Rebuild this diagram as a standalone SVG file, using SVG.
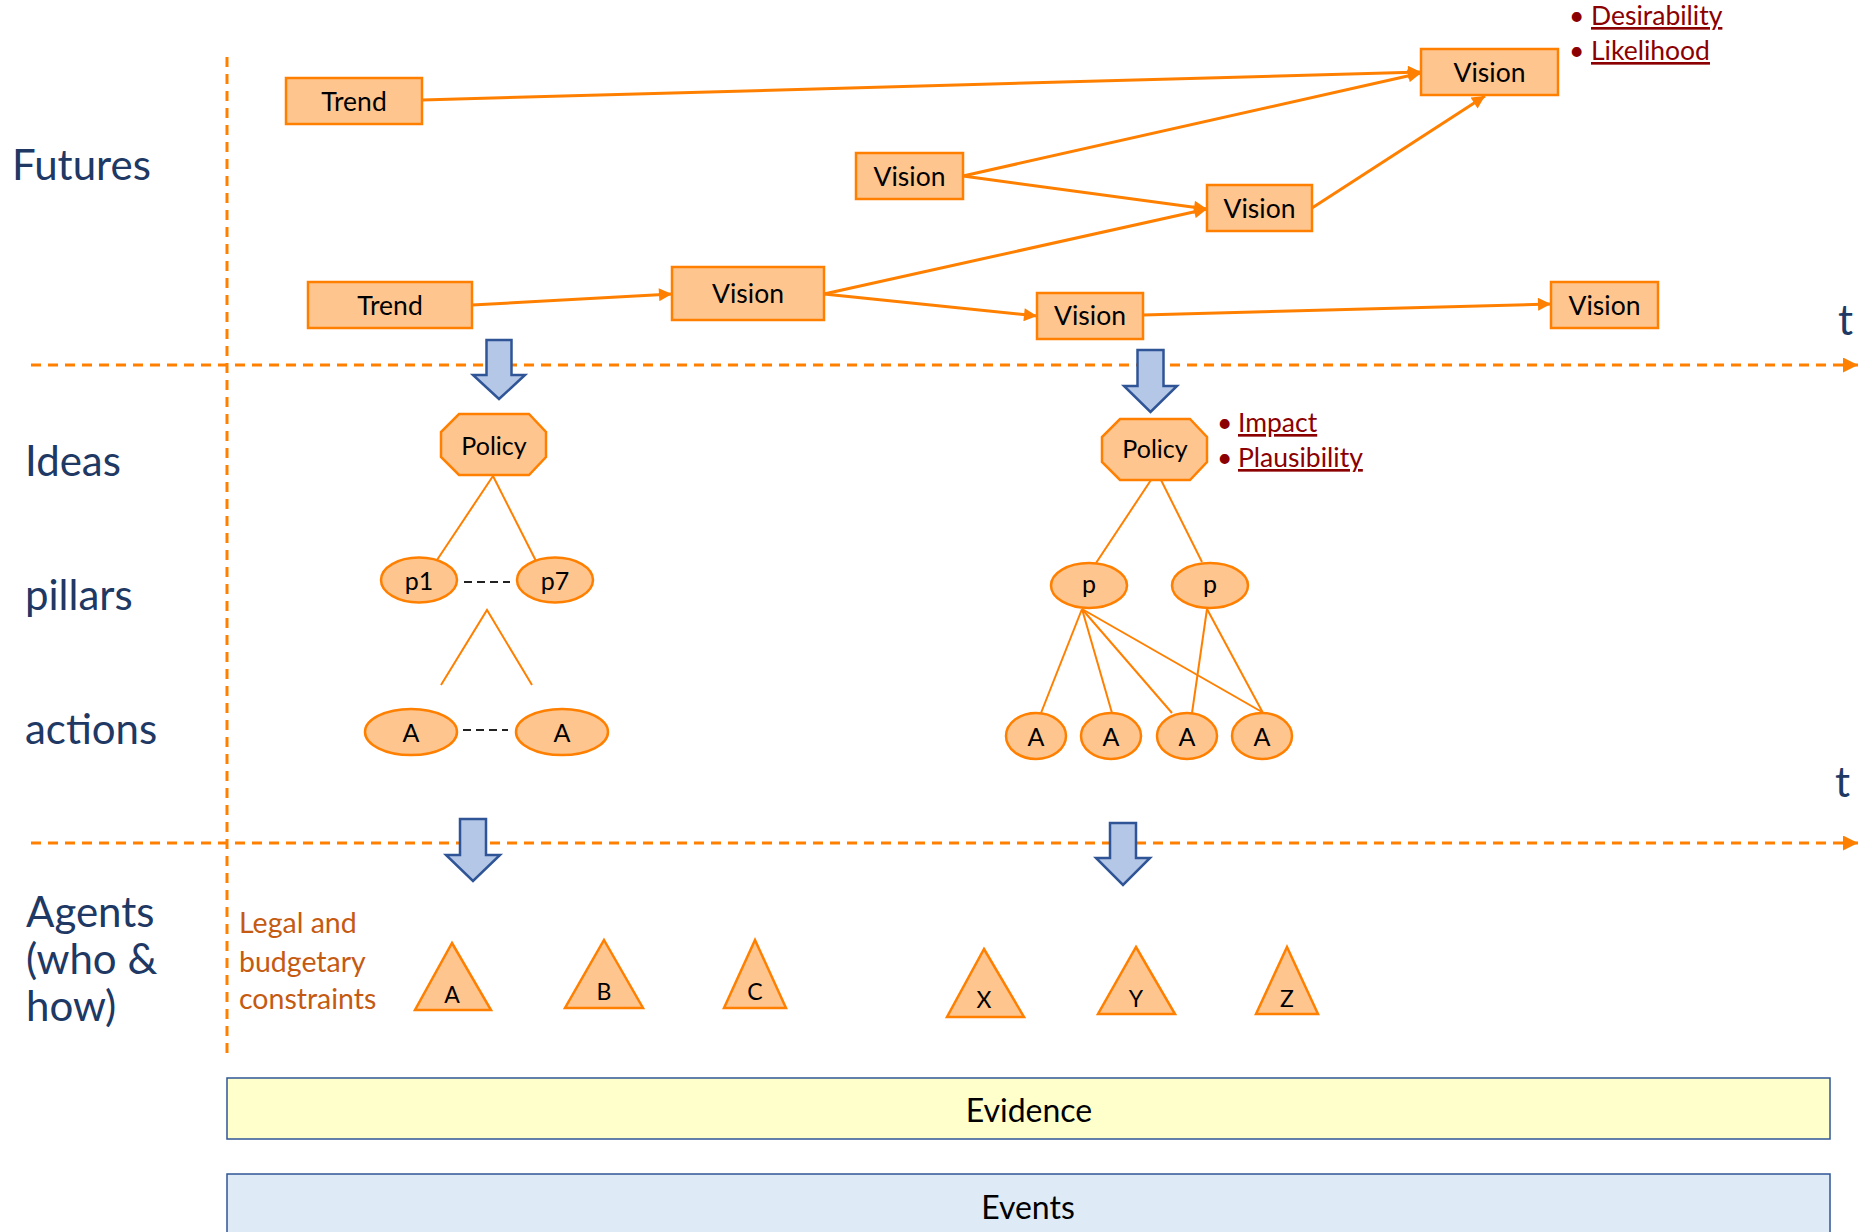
<svg xmlns="http://www.w3.org/2000/svg" width="1860" height="1232" viewBox="0 0 1860 1232">
<defs>
<style>
text{font-family:Lato,"Liberation Sans",sans-serif}
.lbl{font-size:42px;fill:#203864}
.box{fill:#FFC58F;stroke:#FF8000;stroke-width:2.5}
.nt{font-size:26.5px;fill:#000;text-anchor:middle}
.st{font-size:25px;fill:#000;text-anchor:middle}
.tri{font-size:23px;fill:#000;text-anchor:middle}
.con{stroke:#FF8000;stroke-width:3;fill:none}
.thin{stroke:#FF8000;stroke-width:2;fill:none}
.axis{stroke:#FF8000;stroke-width:3;stroke-dasharray:10 7;fill:none}
.blk{fill:#B4C7E7;stroke:#2F5597;stroke-width:2.5;stroke-linejoin:miter}
.bul{font-size:26.5px;fill:#8B0000}
.red{font-size:28.5px;fill:#C55A11}
.dash{stroke:#222;stroke-width:2;stroke-dasharray:8 5}
</style>
<marker id="ah" viewBox="0 0 10 10" refX="10" refY="5" markerWidth="15" markerHeight="13" markerUnits="userSpaceOnUse" orient="auto">
<path d="M0,0 L10,5 L0,10 z" fill="#FF8000"/>
</marker>
<marker id="axh" viewBox="0 0 10 10" refX="10" refY="5" markerWidth="18" markerHeight="15" markerUnits="userSpaceOnUse" orient="auto">
<path d="M0,0 L10,5 L0,10 z" fill="#FF8000"/>
</marker>
</defs>
<rect x="0" y="0" width="1860" height="1232" fill="#fff"/>

<g id="axes">
<line class="axis" x1="227" y1="57" x2="227" y2="1056"/>
<line class="axis" x1="31" y1="365" x2="1858" y2="365" marker-end="url(#axh)"/>
<line class="axis" x1="31" y1="843" x2="1858" y2="843" marker-end="url(#axh)"/>
<text class="lbl" x="1838" y="335">t</text>
<text class="lbl" x="1835" y="797">t</text>
</g>

<g id="row-labels">
<text class="lbl" x="12" y="180">Futures</text>
<text class="lbl" x="25" y="476">Ideas</text>
<text class="lbl" x="25" y="610">pillars</text>
<text class="lbl" x="25" y="744">actions</text>
<text class="lbl" x="26" y="927" font-size="39">Agents</text>
<text class="lbl" x="26" y="974" font-size="39">(who &amp;</text>
<text class="lbl" x="26" y="1021" font-size="39">how)</text>
</g>

<g id="connectors">
<line class="con" x1="422" y1="100" x2="1421" y2="72" marker-end="url(#ah)"/>
<line class="con" x1="963" y1="176" x2="1421" y2="73" marker-end="url(#ah)"/>
<line class="con" x1="963" y1="176" x2="1207" y2="209" marker-end="url(#ah)"/>
<line class="con" x1="1312" y1="208" x2="1485" y2="96" marker-end="url(#ah)"/>
<line class="con" x1="472" y1="305" x2="672" y2="294" marker-end="url(#ah)"/>
<line class="con" x1="824" y1="294" x2="1207" y2="209" marker-end="url(#ah)"/>
<line class="con" x1="824" y1="294" x2="1037" y2="316" marker-end="url(#ah)"/>
<line class="con" x1="1143" y1="315" x2="1551" y2="304" marker-end="url(#ah)"/>
<line class="thin" x1="493" y1="476" x2="437" y2="560"/>
<line class="thin" x1="493" y1="476" x2="536" y2="561"/>
<polyline class="thin" points="441,685 487,610 532,685"/>
<line class="dash" x1="464" y1="582" x2="510" y2="582"/>
<line class="dash" x1="463" y1="730" x2="508" y2="730"/>
<line class="thin" x1="1151" y1="480" x2="1096" y2="563"/>
<line class="thin" x1="1161" y1="480" x2="1202" y2="562"/>
<line class="thin" x1="1082" y1="609" x2="1041" y2="713"/>
<line class="thin" x1="1082" y1="609" x2="1112" y2="713"/>
<line class="thin" x1="1082" y1="609" x2="1172" y2="713"/>
<line class="thin" x1="1082" y1="609" x2="1262" y2="712"/>
<line class="thin" x1="1207" y1="609" x2="1192" y2="713"/>
<line class="thin" x1="1207" y1="609" x2="1263" y2="713"/>
</g>

<g id="trend1"><rect class="box" x="286" y="78" width="136" height="46"/><text class="nt" x="354" y="111">Trend</text></g>
<g id="trend2"><rect class="box" x="308" y="282" width="164" height="46"/><text class="nt" x="390" y="315">Trend</text></g>
<g id="vision-ll"><rect class="box" x="672" y="267" width="152" height="53"/><text class="nt" x="748" y="303">Vision</text></g>
<g id="vision-mt"><rect class="box" x="856" y="153" width="107" height="46"/><text class="nt" x="909.5" y="186">Vision</text></g>
<g id="vision-top"><rect class="box" x="1421" y="49" width="137" height="46"/><text class="nt" x="1489.5" y="82">Vision</text></g>
<g id="vision-mid"><rect class="box" x="1207" y="185" width="105" height="46"/><text class="nt" x="1259.5" y="218">Vision</text></g>
<g id="vision-lm"><rect class="box" x="1037" y="293" width="106" height="46"/><text class="nt" x="1090" y="325">Vision</text></g>
<g id="vision-r"><rect class="box" x="1551" y="282" width="107" height="46"/><text class="nt" x="1604.5" y="315">Vision</text></g>

<g id="criteria-futures">
<text class="bul" x="1569" y="25">•</text>
<text class="bul" x="1591" y="25" text-decoration="underline">Desirability</text>
<text class="bul" x="1569" y="60">•</text>
<text class="bul" x="1591" y="60" text-decoration="underline">Likelihood</text>
</g>

<g id="down-arrows">
<polygon class="blk" points="486.5,340 511.5,340 511.5,375 525,375 499,399 473,375 486.5,375"/>
<polygon class="blk" points="1137.5,350 1163.5,350 1163.5,386 1177,386 1150.5,412 1124,386 1137.5,386"/>
<polygon class="blk" points="460,819 486,819 486,855 500,855 473,881 446,855 460,855"/>
<polygon class="blk" points="1110,823 1136,823 1136,858 1150,858 1123,885 1096,858 1110,858"/>
</g>

<g id="policy-left"><polygon class="box" points="459,414 529,414 546,432 546,457 529,475 459,475 441,457 441,432"/><text class="st" x="494" y="455">Policy</text></g>
<g id="p1"><ellipse class="box" cx="419" cy="580" rx="38" ry="22.5"/><text class="st" x="419" y="590">p1</text></g>
<g id="p7"><ellipse class="box" cx="555" cy="580" rx="38" ry="22.5"/><text class="st" x="555" y="590">p7</text></g>
<g id="a-left1"><ellipse class="box" cx="411" cy="732" rx="46" ry="23"/><text class="st" x="411" y="742">A</text></g>
<g id="a-left2"><ellipse class="box" cx="562" cy="732" rx="46" ry="23"/><text class="st" x="562" y="742">A</text></g>

<g id="policy-right"><polygon class="box" points="1120,419 1190,419 1207,437 1207,462 1190,480 1120,480 1102,462 1102,437"/><text class="st" x="1155" y="458">Policy</text></g>
<g id="criteria-ideas">
<text class="bul" x="1217" y="432">•</text>
<text class="bul" x="1238" y="432" text-decoration="underline">Impact</text>
<text class="bul" x="1217" y="467">•</text>
<text class="bul" x="1238" y="467" text-decoration="underline">Plausibility</text>
</g>
<g id="p-a"><ellipse class="box" cx="1089" cy="585.5" rx="38" ry="22.5"/><text class="st" x="1089" y="593">p</text></g>
<g id="p-b"><ellipse class="box" cx="1210" cy="585.5" rx="38" ry="22.5"/><text class="st" x="1210" y="593">p</text></g>
<g id="a-r1"><ellipse class="box" cx="1036" cy="736" rx="30" ry="23"/><text class="st" x="1036" y="746">A</text></g>
<g id="a-r2"><ellipse class="box" cx="1111" cy="736" rx="30" ry="23"/><text class="st" x="1111" y="746">A</text></g>
<g id="a-r3"><ellipse class="box" cx="1187" cy="736" rx="30" ry="23"/><text class="st" x="1187" y="746">A</text></g>
<g id="a-r4"><ellipse class="box" cx="1262" cy="736" rx="30" ry="23"/><text class="st" x="1262" y="746">A</text></g>

<g id="constraints">
<text class="red" x="239" y="933">Legal and</text>
<text class="red" x="239" y="972">budgetary</text>
<text class="red" x="239" y="1009">constraints</text>
</g>
<g id="agent-A"><polygon class="box" points="452,943 491,1010 415,1010"/><text class="tri" x="452" y="1003">A</text></g>
<g id="agent-B"><polygon class="box" points="604,940 643,1008 565,1008"/><text class="tri" x="604" y="1000">B</text></g>
<g id="agent-C"><polygon class="box" points="755,940 786,1008 724,1008"/><text class="tri" x="755" y="1000">C</text></g>
<g id="agent-X"><polygon class="box" points="984,949 1024,1017 947,1017"/><text class="tri" x="984" y="1008">X</text></g>
<g id="agent-Y"><polygon class="box" points="1136,947 1175,1014 1098,1014"/><text class="tri" x="1136" y="1007">Y</text></g>
<g id="agent-Z"><polygon class="box" points="1287,947 1318,1014 1256,1014"/><text class="tri" x="1287" y="1007">Z</text></g>

<g id="evidence"><rect x="227" y="1078" width="1603" height="61" fill="#FFFFCC" stroke="#2F5597" stroke-width="1.5"/><text x="1029" y="1122" font-size="32" text-anchor="middle" fill="#000">Evidence</text></g>
<g id="events"><rect x="227" y="1174" width="1603" height="70" fill="#DEEBF7" stroke="#2F5597" stroke-width="1.5"/><text x="1028" y="1219" font-size="32" text-anchor="middle" fill="#000">Events</text></g>
</svg>
